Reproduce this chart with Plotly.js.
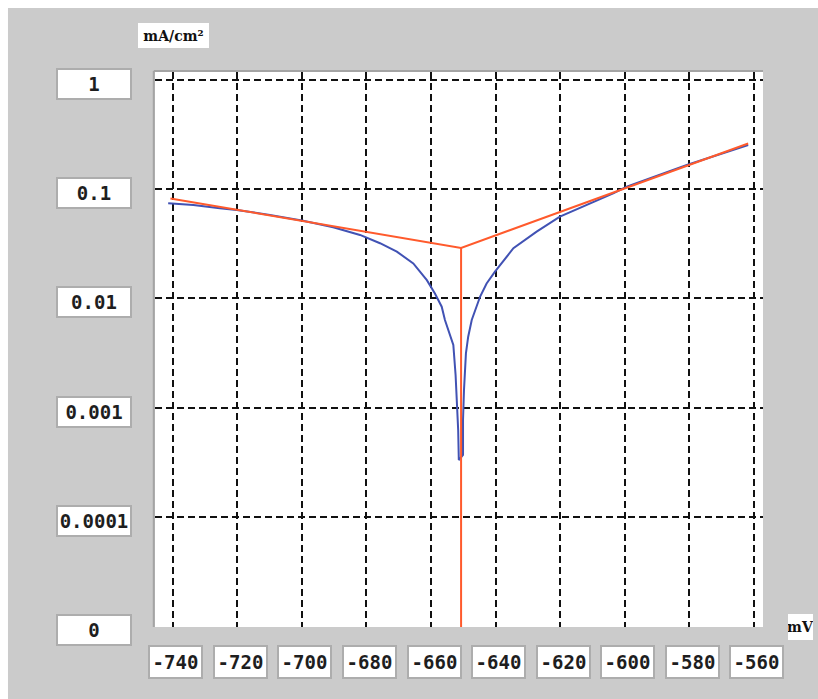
<!DOCTYPE html>
<html><head><meta charset="utf-8">
<script src="https://cdn.plot.ly/plotly-3.0.1.min.js"></script>
<style>html,body{margin:0;padding:0;background:#fff}</style>
</head><body><div id="chart" style="width:818px;height:699px"></div>
<script>
// Measured polarization curve (mV vs mA/cm2)
const potential = [-741.4, -733.6, -725.4, -720.2, -709.9, -699.6, -690.3, -682.0, -675.8, -672.7, -670.6, -665.5, -661.3, -658.8, -656.7, -655.7, -654.1, -653.1, -652.4, -651.9, -651.6, -651.4, -650.1, -650.1, -649.8, -649.2, -648.5, -647.4, -645.9, -644.8, -642.8, -640.2, -634.5, -627.3, -620.1, -611.8, -603.6, -599.4, -580.8, -561.8];
const currentDensity = [0.0743, 0.0716, 0.0668, 0.0646, 0.0581, 0.0515, 0.0448, 0.0381, 0.0320, 0.0288, 0.0268, 0.0209, 0.0147, 0.0111, 0.00839, 0.00634, 0.00446, 0.00374, 0.00199, 0.00113, 0.000624, 0.000331, 0.000368, 0.000769, 0.00145, 0.00314, 0.00446, 0.00634, 0.00839, 0.0104, 0.0137, 0.0176, 0.0288, 0.0408, 0.0560, 0.0716, 0.0916, 0.1054, 0.1667, 0.254];
// Tafel fit lines
const tafelX = [-740.7, -650.7, -561.8];
const tafelY = [0.0822, 0.029, 0.262];
const ecorrX = [-650.7, -650.7];
const ecorrY = [0.029, 0.000001];
// Axis ticks
const xTickVals = [-740, -720, -700, -680, -660, -640, -620, -600, -580, -560];
const xTickText = ['-740', '-720', '-700', '-680', '-660', '-640', '-620', '-600', '-580', '-560'];
const yTickVals = [0.00001, 0.0001, 0.001, 0.01, 0.1, 1];
const yTickText = ['0', '0.0001', '0.001', '0.01', '0.1', '1'];
const xTitle = 'mV';
const yTitle = 'mA/cm²';

const labelFont = {family: 'DejaVu Sans Mono', size: 19, color: '#1e1e1e', weight: 'bold'};
const annotations = [];
yTickVals.forEach((v, i) => annotations.push({
  xref: 'paper', yref: 'y', x: -0.1003, y: Math.log10(v), text: yTickText[i],
  showarrow: false, xanchor: 'center', yanchor: 'middle', yshift: -4,
  width: 72, height: 28, bgcolor: '#ffffff', bordercolor: '#adadad', borderwidth: 2, borderpad: 0,
  font: labelFont
}));
xTickVals.forEach((v, i) => annotations.push({
  xref: 'x', yref: 'paper', x: v, y: -0.0631, text: xTickText[i],
  showarrow: false, xanchor: 'center', yanchor: 'middle', xshift: 3,
  width: 51, height: 30, bgcolor: '#ffffff', bordercolor: '#adadad', borderwidth: 2, borderpad: 0,
  font: labelFont
}));
annotations.push({xref: 'paper', yref: 'paper', x: 0.0304, y: 1.0658, text: '<b>' + yTitle + '</b>',
  showarrow: false, xanchor: 'center', yanchor: 'middle', width: 71, height: 25, bgcolor: '#ffffff',
  borderwidth: 0, borderpad: 0, font: {family: 'DejaVu Serif', size: 14, color: '#111'}});
annotations.push({xref: 'paper', yref: 'paper', x: 1.0617, y: 0, text: '<b>' + xTitle + '</b>',
  showarrow: false, xanchor: 'center', yanchor: 'middle', width: 25, height: 26, bgcolor: '#ffffff',
  borderwidth: 0, borderpad: 0, font: {family: 'DejaVu Serif', size: 14, color: '#111'}});

const traces = [
  {x: potential, y: currentDensity, type: 'scatter', mode: 'lines', line: {color: '#4152b4', width: 2}, hoverinfo: 'skip'},
  {x: tafelX, y: tafelY, type: 'scatter', mode: 'lines', line: {color: '#ff5a2c', width: 2}, hoverinfo: 'skip'},
  {x: ecorrX, y: ecorrY, type: 'scatter', mode: 'lines', line: {color: '#ff5a2c', width: 2}, hoverinfo: 'skip'}
];

const layout = {
  width: 818, height: 699,
  margin: {l: 155, r: 55, t: 72, b: 72},
  paper_bgcolor: '#cbcbcb', plot_bgcolor: '#ffffff',
  showlegend: false,
  xaxis: {range: [-745.48, -557.21], tickvals: xTickVals, showticklabels: false, ticks: '',
    showgrid: true, gridcolor: '#111111', gridwidth: 2, griddash: '7px,4px', zeroline: false, showline: false},
  yaxis: {type: 'log', range: [-5.009, 0.073], tickvals: yTickVals, showticklabels: false, ticks: '',
    showgrid: true, gridcolor: '#111111', gridwidth: 2, griddash: '7px,4px', zeroline: false, showline: false},
  annotations: annotations,
  shapes: [
    {type: 'rect', xref: 'paper', yref: 'paper', x0: -0.26, x1: 1.1, y0: 1.1153, y1: 1.14, fillcolor: '#ffffff', line: {width: 0}},
    {type: 'rect', xref: 'paper', yref: 'paper', x0: -0.26, x1: -0.2418, y0: -0.14, y1: 1.14, fillcolor: '#ffffff', line: {width: 0}},
    {type: 'line', xref: 'paper', yref: 'paper', x0: -0.002, x1: -0.002, y0: 0, y1: 1.002, line: {color: '#a4a4a4', width: 2}},
    {type: 'line', xref: 'paper', yref: 'paper', x0: -0.002, x1: 1, y0: 1.002, y1: 1.002, line: {color: '#a4a4a4', width: 2}}
  ]
};

Plotly.newPlot('chart', traces, layout, {staticPlot: true, displayModeBar: false});
</script>
</body></html>
